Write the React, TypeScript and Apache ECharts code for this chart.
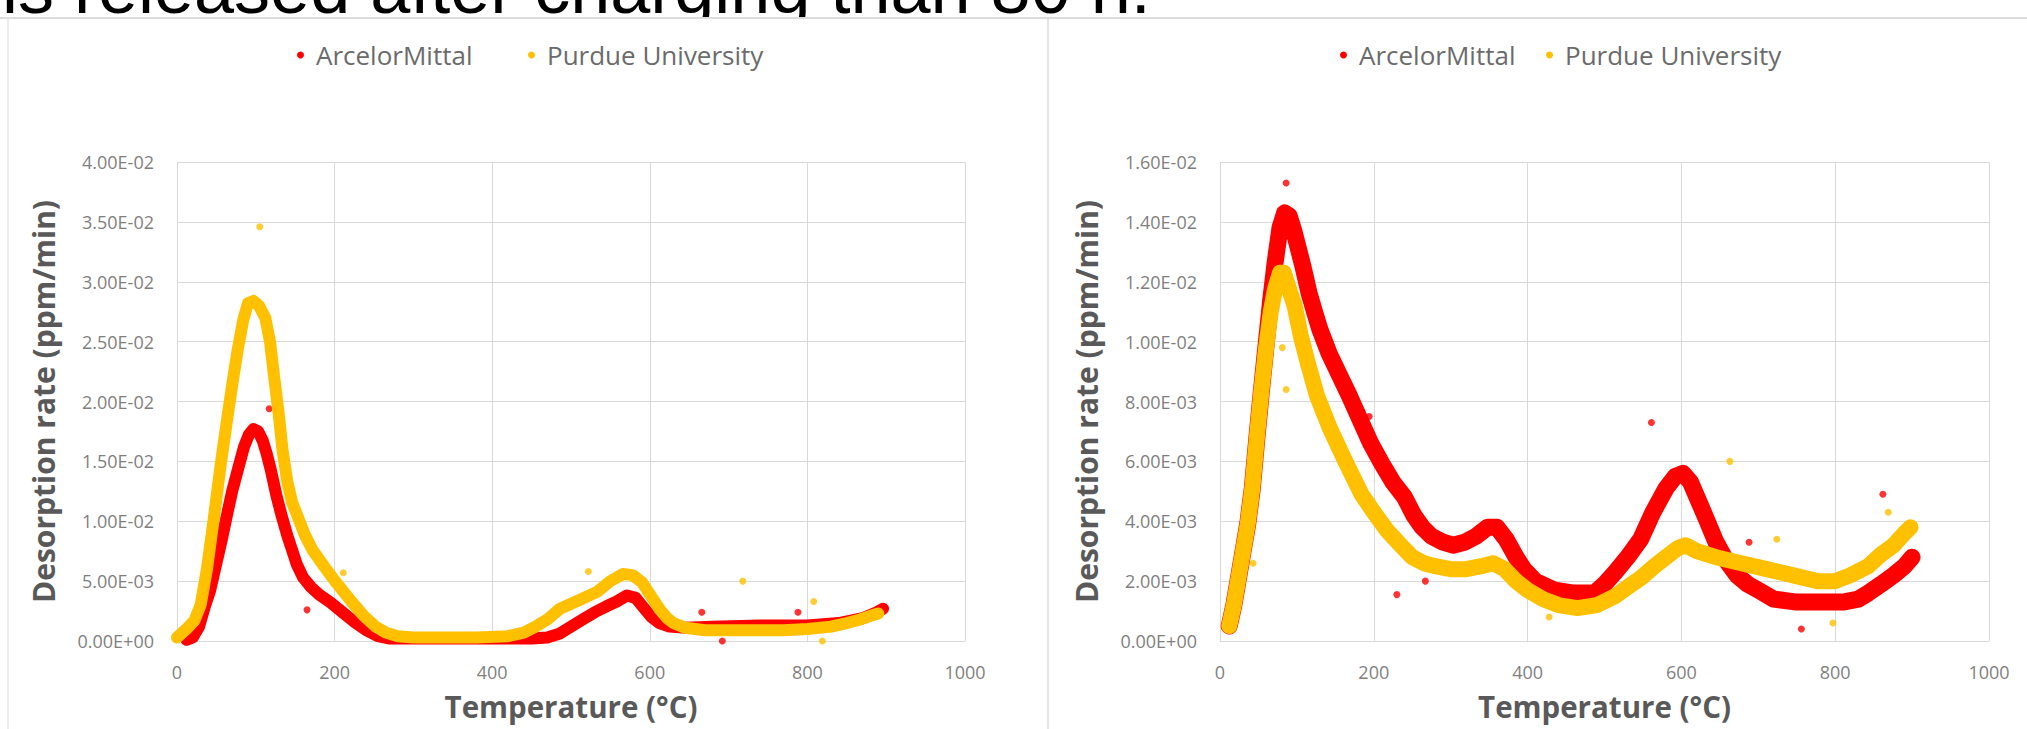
import React, { useEffect, useRef } from 'react';
import * as echarts from 'echarts';

const TITLE_TEXT = 'is released after charging than 80 h.';
const SERIES_NAMES = ['ArcelorMittal', 'Purdue University'];
const X_AXIS_NAME = 'Temperature (°C)';
const Y_AXIS_NAME = 'Desorption rate (ppm/min)';
const X_MIN = 0;
const X_MAX = 1000;
const X_STEP = 200;
const LEFT_Y_MAX = 0.04;
const LEFT_Y_STEP = 0.005;
const RIGHT_Y_MAX = 0.016;
const RIGHT_Y_STEP = 0.002;

// Left panel – ArcelorMittal (dense scatter band, read as its centre line)
const leftArcelor: [number, number][] = [
  [12, 0.0001], [20, 0.0003], [28, 0.0012], [35, 0.0028], [42, 0.0042], [50, 0.0065],
  [57, 0.0085], [63, 0.0104], [70, 0.0125], [78, 0.0145], [85, 0.0162], [91, 0.0172],
  [97, 0.0177], [103, 0.0175], [109, 0.0167], [114, 0.0156], [119, 0.0143], [126, 0.0122],
  [133, 0.0104], [140, 0.0088], [146, 0.0076], [152, 0.0064], [160, 0.0053], [170, 0.0045],
  [180, 0.0039], [195, 0.0032], [210, 0.0024], [225, 0.0016], [240, 0.0009], [255, 0.0004],
  [270, 0.0002], [300, 0.0002], [340, 0.0002], [380, 0.0002], [420, 0.0002], [450, 0.0002],
  [470, 0.0003], [485, 0.0006], [500, 0.0012], [515, 0.0018], [530, 0.0024], [545, 0.0029],
  [558, 0.0033], [571, 0.0038], [582, 0.0036], [592, 0.0028], [602, 0.0020], [612, 0.0015],
  [625, 0.0012], [645, 0.0011], [680, 0.0012], [740, 0.0013], [800, 0.0013], [840, 0.0015],
  [870, 0.0019], [888, 0.0024], [896, 0.0027],
];
const leftArcelorOutliers: [number, number][] = [
  [117, 0.0194], [165, 0.0026], [459, 0.0013], [666, 0.0024], [692, 0.0], [788, 0.0024],
];

// Left panel – Purdue University
const leftPurdue: [number, number][] = [
  [0, 0.0003], [12, 0.0010], [22, 0.0017], [30, 0.0030], [38, 0.0060], [47, 0.0104],
  [55, 0.0145], [64, 0.0187], [71, 0.0218], [77, 0.0243], [84, 0.0268], [90, 0.0282],
  [97, 0.0284], [104, 0.0280], [112, 0.0270], [118, 0.0250], [123, 0.0222], [129, 0.0190],
  [134, 0.0159], [140, 0.0133], [146, 0.0116], [153, 0.0104], [162, 0.0089], [172, 0.0076],
  [187, 0.0062], [203, 0.0048], [220, 0.0034], [237, 0.0021], [252, 0.0012], [265, 0.0007],
  [280, 0.0004], [300, 0.0003], [340, 0.0003], [380, 0.0003], [420, 0.0004], [440, 0.0007],
  [455, 0.0012], [470, 0.0018], [486, 0.0027], [510, 0.0034], [533, 0.0041], [550, 0.0050],
  [566, 0.0056], [578, 0.0055], [590, 0.0049], [596, 0.0043], [605, 0.0034], [613, 0.0026],
  [622, 0.0019], [630, 0.0015], [645, 0.0011], [670, 0.0009], [720, 0.0009], [770, 0.0009],
  [800, 0.0010], [830, 0.0012], [850, 0.0015], [867, 0.0018], [880, 0.0021], [890, 0.0023],
];
const leftPurdueOutliers: [number, number][] = [
  [105, 0.0346], [211, 0.0057], [522, 0.0058], [718, 0.0050], [808, 0.0033], [819, 0.0],
];

// Right panel – ArcelorMittal
const rightArcelor: [number, number][] = [
  [12, 0.0005], [18, 0.0012], [24, 0.0021], [30, 0.0030], [36, 0.0039], [42, 0.0051],
  [48, 0.0068], [54, 0.0084], [60, 0.0099], [66, 0.0114], [72, 0.0127], [78, 0.0138],
  [84, 0.0143], [90, 0.0142], [96, 0.0137], [102, 0.0131], [108, 0.0125], [116, 0.0116],
  [124, 0.0109], [130, 0.0104], [142, 0.0096], [155, 0.0089], [168, 0.0082], [182, 0.0074],
  [196, 0.0066], [211, 0.0059], [225, 0.0053], [240, 0.0048], [252, 0.0042], [263, 0.0038],
  [275, 0.0035], [290, 0.0033], [303, 0.0032], [318, 0.0033], [333, 0.0035], [348, 0.0038],
  [360, 0.0038], [372, 0.0034], [385, 0.0028], [395, 0.0024], [410, 0.0020], [435, 0.0017],
  [460, 0.0016], [487, 0.0016], [500, 0.0019], [514, 0.0023], [530, 0.0028], [547, 0.0034],
  [563, 0.0043], [580, 0.0051], [592, 0.0055], [602, 0.0056], [612, 0.0053], [622, 0.0047],
  [632, 0.0041], [645, 0.0033], [658, 0.0027], [672, 0.0022], [686, 0.0019], [700, 0.0017],
  [720, 0.0014], [750, 0.0013], [780, 0.0013], [810, 0.0013], [830, 0.0014], [843, 0.0016],
  [860, 0.0019], [876, 0.0022], [890, 0.0025], [900, 0.0028],
];
const rightArcelorOutliers: [number, number][] = [
  [86, 0.0153], [194, 0.0075], [230, 0.00155], [267, 0.0020], [561, 0.0073], [688, 0.0033],
  [756, 0.0004], [862, 0.0049],
];

// Right panel – Purdue University
const rightPurdue: [number, number][] = [
  [12, 0.0005], [18, 0.0012], [24, 0.0021], [30, 0.0030], [36, 0.0039], [42, 0.0051],
  [48, 0.0068], [54, 0.0084], [60, 0.0098], [66, 0.0110], [72, 0.0118], [78, 0.0123],
  [83, 0.0123], [88, 0.0119], [93, 0.0115], [97, 0.0112], [105, 0.0102], [114, 0.0093],
  [126, 0.0082], [143, 0.0071], [163, 0.0060], [184, 0.0049], [200, 0.0043], [217, 0.0037],
  [235, 0.0032], [250, 0.0028], [265, 0.0026], [280, 0.0025], [300, 0.0024], [320, 0.0024],
  [340, 0.0025], [355, 0.0026], [370, 0.0024], [385, 0.0020], [400, 0.0017], [420, 0.0014],
  [440, 0.0012], [465, 0.0011], [490, 0.0012], [514, 0.0015], [530, 0.0018], [547, 0.0021],
  [565, 0.0025], [580, 0.0028], [595, 0.0031], [605, 0.0032], [620, 0.0030], [645, 0.0028],
  [678, 0.0026], [711, 0.0024], [744, 0.0022], [777, 0.0020], [800, 0.0020], [820, 0.0022],
  [843, 0.0025], [860, 0.0029], [876, 0.0032], [890, 0.0036], [898, 0.0038],
];
const rightPurdueOutliers: [number, number][] = [
  [43, 0.0026], [81, 0.0098], [86, 0.0084], [428, 0.0008], [539, 0.0034], [663, 0.0060],
  [724, 0.0034], [797, 0.0006], [869, 0.0043],
];

const RED = '#FF0000';
const GOLD = '#FFC000';
const FONT = '"Open Sans", "Noto Sans", sans-serif';
const GRID_COLOR = '#d9d9d9';

function sci(v: number): string {
  if (Math.abs(v) < 1e-12) return '0.00E+00';
  let e = Math.floor(Math.log10(Math.abs(v)) + 1e-9);
  let ms = (v / Math.pow(10, e)).toFixed(2);
  if (ms === '10.00') {
    e += 1;
    ms = (v / Math.pow(10, e)).toFixed(2);
  }
  return ms + 'E' + (e < 0 ? '-' : '+') + String(Math.abs(e)).padStart(2, '0');
}

function xAxis(gridIndex: number) {
  return {
    type: 'value',
    gridIndex,
    min: X_MIN,
    max: X_MAX,
    interval: X_STEP,
    axisLine: { show: true, lineStyle: { color: GRID_COLOR, width: 1 } },
    axisTick: { show: false },
    splitLine: { show: true, lineStyle: { color: GRID_COLOR, width: 1 } },
    axisLabel: { color: '#7f7f7f', fontSize: 18, fontFamily: FONT, margin: 22, formatter: (v: number) => String(v) },
    name: X_AXIS_NAME,
    nameLocation: 'middle',
    nameGap: 50,
    nameTextStyle: { color: '#595959', fontSize: 29.5, fontWeight: 'bold', fontFamily: FONT },
  };
}

function yAxis(gridIndex: number, max: number, step: number) {
  return {
    type: 'value',
    gridIndex,
    min: 0,
    max,
    interval: step,
    axisLine: { show: false },
    axisTick: { show: false },
    splitLine: { show: true, lineStyle: { color: GRID_COLOR, width: 1 } },
    axisLabel: { color: '#7f7f7f', fontSize: 18, fontFamily: FONT, margin: 23, formatter: (v: number) => sci(v) },
    name: Y_AXIS_NAME,
    nameLocation: 'middle',
    nameRotate: 90,
    nameGap: 119,
    nameTextStyle: { color: '#595959', fontSize: 30, fontWeight: 'bold', fontFamily: FONT },
  };
}

function band(name: string, color: string, data: [number, number][], idx: number, width: number) {
  return {
    type: 'line',
    name,
    xAxisIndex: idx,
    yAxisIndex: idx,
    data,
    symbol: 'none',
    showSymbol: false,
    smooth: false,
    itemStyle: { color },
    lineStyle: { color, width, cap: 'round', join: 'round' },
    emphasis: { disabled: true },
  };
}

function dots(name: string, color: string, data: [number, number][], idx: number) {
  return {
    type: 'scatter',
    name,
    xAxisIndex: idx,
    yAxisIndex: idx,
    data,
    symbol: 'circle',
    symbolSize: 7,
    itemStyle: { color },
    emphasis: { disabled: true },
  };
}

function legend(name: string, left: number) {
  return {
    data: [name],
    left,
    top: 37,
    icon: 'circle',
    itemWidth: 7,
    itemHeight: 7,
    itemGap: 0,
    textStyle: { color: '#6b6b6b', fontSize: 26, fontFamily: FONT, padding: [0, 0, 0, 7] },
  };
}

export default function App() {
  const ref = useRef<HTMLDivElement>(null);
  useEffect(() => {
    if (!ref.current) return;
    const chart = echarts.init(ref.current, null, { renderer: 'svg' });
    chart.setOption({
      animation: false,
      backgroundColor: '#ffffff',
      graphic: [
        {
          type: 'line',
          shape: { x1: 0, y1: 18, x2: 2027, y2: 18 },
          style: { stroke: '#dcdcdc', lineWidth: 2 },
        },
        {
          type: 'line',
          shape: { x1: 8, y1: 18, x2: 8, y2: 729 },
          style: { stroke: '#e6e6e6', lineWidth: 1.5 },
        },
        {
          type: 'line',
          shape: { x1: 1048, y1: 18, x2: 1048, y2: 729 },
          style: { stroke: '#dcdcdc', lineWidth: 1.5 },
        },
      ],
      legend: [
        legend(SERIES_NAMES[0], 292),
        legend(SERIES_NAMES[1], 523),
        legend(SERIES_NAMES[0], 1335),
        legend(SERIES_NAMES[1], 1541),
      ],
      grid: [
        { left: 177, top: 162, width: 788, height: 479 },
        { left: 1220, top: 162, width: 769, height: 479 },
      ],
      xAxis: [xAxis(0), xAxis(1)],
      yAxis: [yAxis(0, LEFT_Y_MAX, LEFT_Y_STEP), yAxis(1, RIGHT_Y_MAX, RIGHT_Y_STEP)],
      series: [
        band(SERIES_NAMES[0], RED, leftArcelor, 0, 12),
        dots(SERIES_NAMES[0], RED, leftArcelorOutliers, 0),
        band(SERIES_NAMES[1], GOLD, leftPurdue, 0, 12),
        dots(SERIES_NAMES[1], GOLD, leftPurdueOutliers, 0),
        band(SERIES_NAMES[0], RED, rightArcelor, 1, 17),
        dots(SERIES_NAMES[0], RED, rightArcelorOutliers, 1),
        band(SERIES_NAMES[1], GOLD, rightPurdue, 1, 16),
        dots(SERIES_NAMES[1], GOLD, rightPurdueOutliers, 1),
      ],
    });
    return () => chart.dispose();
  }, []);
  return (
    <div style={{ position: 'fixed', left: 0, top: 0, width: 2027, height: 729, background: '#ffffff' }}>
      <div ref={ref} style={{ position: 'absolute', left: 0, top: 0, width: 2027, height: 729 }} />
      <div
        style={{
          position: 'absolute',
          left: 0,
          top: 0,
          width: 2027,
          height: 17,
          overflow: 'hidden',
          pointerEvents: 'none',
        }}
      >
        <span
          style={{
            position: 'absolute',
            left: 2,
            top: -48,
            whiteSpace: 'nowrap',
            fontFamily: '"Liberation Sans", Arial, sans-serif',
            fontSize: 72,
            lineHeight: '72px',
            color: '#000000',
          }}
        >
          {TITLE_TEXT}
        </span>
      </div>
    </div>
  );
}
